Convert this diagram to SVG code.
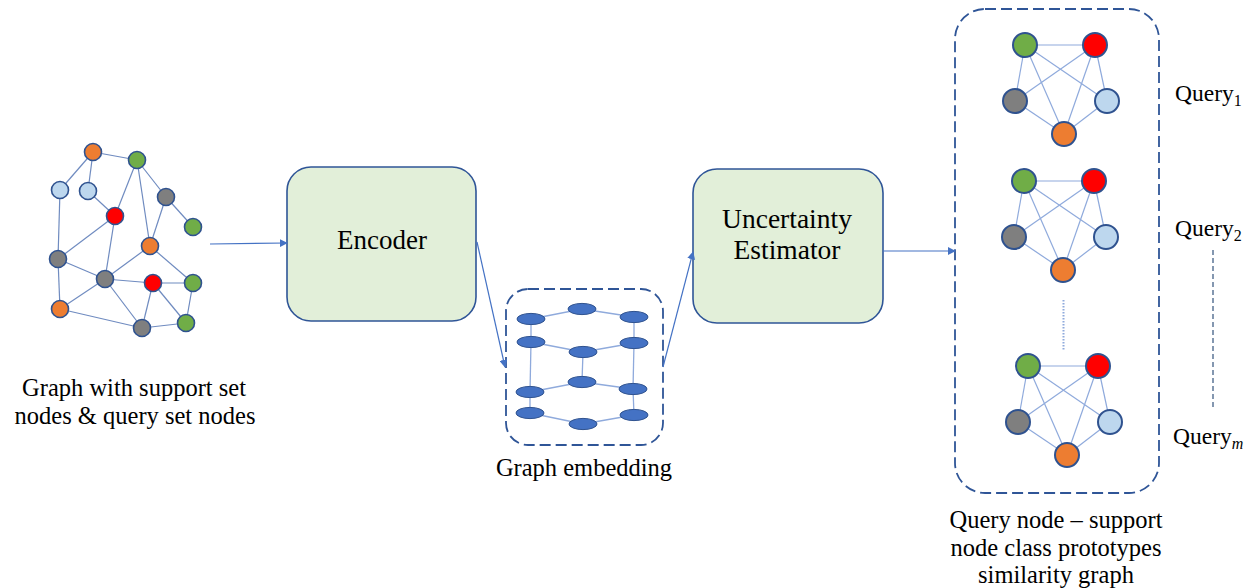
<svg xmlns="http://www.w3.org/2000/svg" width="1255" height="588" viewBox="0 0 1255 588">
<style>
text{font-family:"Liberation Serif","Times New Roman",serif;fill:#000}
.lbl{font-size:24.5px;text-anchor:middle}
.box{fill:#e2efd9;stroke:#2f5597;stroke-width:1.6}
.dash{fill:none;stroke:#2f5597;stroke-width:1.8;stroke-dasharray:11 5}
.ge{stroke:#6f8bc0;stroke-width:1.2}
.pe{stroke:#8faadc;stroke-width:1.2}
.ee{stroke:#8faadc;stroke-width:1.3}
.n{stroke:#2f528f;stroke-width:1.6}
.pn{stroke:#2f528f;stroke-width:2}
.g{fill:#70ad47}.r{fill:#ff0000}.o{fill:#ed7d31}.k{fill:#7f7f7f}.b{fill:#bdd7ee}
.el{fill:#4472c4;stroke:#2f528f;stroke-width:1}
.arr{stroke:#4472c4;stroke-width:1.2;fill:none;marker-end:url(#ah)}
.q{font-size:23.5px}
.sub{font-size:16px}
</style>
<defs>
<marker id="ah" viewBox="0 0 10 10" refX="9" refY="5" markerWidth="8" markerHeight="8" markerUnits="userSpaceOnUse" orient="auto">
<path d="M0,0 L10,5 L0,10 z" fill="#4472c4"/>
</marker>
<g id="pent">
<g class="pe">
<line x1="0" y1="0" x2="70" y2="0"/>
<line x1="0" y1="0" x2="-10" y2="56"/>
<line x1="0" y1="0" x2="82" y2="56"/>
<line x1="0" y1="0" x2="39" y2="89"/>
<line x1="70" y1="0" x2="-10" y2="56"/>
<line x1="70" y1="0" x2="39" y2="89"/>
<line x1="70" y1="0" x2="82" y2="56"/>
<line x1="-10" y1="56" x2="39" y2="89"/>
<line x1="82" y1="56" x2="39" y2="89"/>
</g>
<g class="pn">
<circle cx="0" cy="0" r="12" class="g"/>
<circle cx="70" cy="0" r="12" class="r"/>
<circle cx="-10" cy="56" r="12" class="k"/>
<circle cx="82" cy="56" r="12" class="b"/>
<circle cx="39" cy="89" r="12" class="o"/>
</g>
</g>
</defs>
<rect width="1255" height="588" fill="#fff"/>

<g id="input-graph">
<g class="ge">
<line x1="93" y1="152" x2="137" y2="160"/>
<line x1="93" y1="152" x2="60" y2="190"/>
<line x1="93" y1="152" x2="88" y2="191"/>
<line x1="137" y1="160" x2="115" y2="216"/>
<line x1="137" y1="160" x2="166" y2="197"/>
<line x1="137" y1="160" x2="150" y2="246"/>
<line x1="60" y1="190" x2="58" y2="259"/>
<line x1="88" y1="191" x2="115" y2="216"/>
<line x1="166" y1="197" x2="193" y2="227"/>
<line x1="166" y1="197" x2="150" y2="246"/>
<line x1="115" y1="216" x2="58" y2="259"/>
<line x1="115" y1="216" x2="105" y2="279"/>
<line x1="150" y1="246" x2="105" y2="279"/>
<line x1="150" y1="246" x2="193" y2="283"/>
<line x1="58" y1="259" x2="105" y2="279"/>
<line x1="58" y1="259" x2="60" y2="309"/>
<line x1="105" y1="279" x2="60" y2="309"/>
<line x1="105" y1="279" x2="153" y2="283"/>
<line x1="105" y1="279" x2="142" y2="328"/>
<line x1="153" y1="283" x2="193" y2="283"/>
<line x1="153" y1="283" x2="142" y2="328"/>
<line x1="153" y1="283" x2="186" y2="323"/>
<line x1="193" y1="283" x2="186" y2="323"/>
<line x1="60" y1="309" x2="142" y2="328"/>
<line x1="142" y1="328" x2="186" y2="323"/>
</g>
<g class="n">
<circle cx="93" cy="152" r="8.5" class="o"/>
<circle cx="137" cy="160" r="8.5" class="g"/>
<circle cx="60" cy="190" r="8.5" class="b"/>
<circle cx="88" cy="191" r="8.5" class="b"/>
<circle cx="166" cy="197" r="8.5" class="k"/>
<circle cx="115" cy="216" r="8.5" class="r"/>
<circle cx="193" cy="227" r="8.5" class="g"/>
<circle cx="150" cy="246" r="8.5" class="o"/>
<circle cx="58" cy="259" r="8.5" class="k"/>
<circle cx="105" cy="279" r="8.5" class="k"/>
<circle cx="153" cy="283" r="8.5" class="r"/>
<circle cx="193" cy="283" r="8.5" class="g"/>
<circle cx="60" cy="309" r="8.5" class="o"/>
<circle cx="186" cy="323" r="8.5" class="g"/>
<circle cx="142" cy="328" r="8.5" class="k"/>
</g>
<text class="lbl" x="134" y="396">Graph with support set</text>
<text class="lbl" x="135" y="424">nodes &amp; query set nodes</text>
</g>

<g id="encoder">
<rect class="box" x="287" y="167" width="189" height="154" rx="24"/>
<text x="382" y="249" font-size="27" text-anchor="middle">Encoder</text>
</g>

<g id="embedding">
<rect class="dash" x="506" y="289" width="157" height="156" rx="22"/>
<g class="ee">
<polyline fill="none" points="531,319 582,309 634,317"/>
<polyline fill="none" points="531,342 583,352 634,343"/>
<polyline fill="none" points="530,392 582,382 633,389"/>
<polyline fill="none" points="530,413 583,424 634,415"/>
<line x1="531" y1="319" x2="531" y2="342"/>
<line x1="634" y1="317" x2="634" y2="343"/>
<line x1="531" y1="342" x2="530" y2="392"/>
<line x1="634" y1="343" x2="633" y2="389"/>
<line x1="583" y1="352" x2="582" y2="382"/>
<line x1="530" y1="392" x2="530" y2="413"/>
<line x1="633" y1="389" x2="634" y2="415"/>
</g>
<ellipse class="el" cx="531" cy="319" rx="14" ry="5.6"/>
<ellipse class="el" cx="582" cy="309" rx="14" ry="5.6"/>
<ellipse class="el" cx="634" cy="317" rx="14" ry="5.6"/>
<ellipse class="el" cx="531" cy="342" rx="14" ry="5.6"/>
<ellipse class="el" cx="583" cy="352" rx="14" ry="5.6"/>
<ellipse class="el" cx="634" cy="343" rx="14" ry="5.6"/>
<ellipse class="el" cx="530" cy="392" rx="14" ry="5.6"/>
<ellipse class="el" cx="582" cy="382" rx="14" ry="5.6"/>
<ellipse class="el" cx="633" cy="389" rx="14" ry="5.6"/>
<ellipse class="el" cx="530" cy="413" rx="14" ry="5.6"/>
<ellipse class="el" cx="583" cy="424" rx="14" ry="5.6"/>
<ellipse class="el" cx="634" cy="415" rx="14" ry="5.6"/>
<text class="lbl" x="584" y="476">Graph embedding</text>
</g>

<g id="uncertainty">
<rect class="box" x="693" y="169" width="190" height="154" rx="24"/>
<text x="787" y="228" font-size="27.5" text-anchor="middle">Uncertainty</text>
<text x="787" y="259" font-size="27.5" text-anchor="middle">Estimator</text>
</g>

<g id="similarity">
<rect class="dash" x="955" y="9" width="204" height="484" rx="30"/>
<use href="#pent" x="1025" y="45"/>
<use href="#pent" x="1024" y="181"/>
<use href="#pent" x="1028" y="366"/>
<line x1="1063.5" y1="300" x2="1063.5" y2="350" stroke="#8faadc" stroke-width="2" stroke-dasharray="1.5 1.5"/>
<text class="lbl" x="1056" y="528">Query node – support</text>
<text class="lbl" x="1056" y="556">node class prototypes</text>
<text class="lbl" x="1056" y="583">similarity graph</text>
</g>

<g id="queries">
<text class="q" x="1175" y="101">Query<tspan class="sub" dy="5">1</tspan></text>
<text class="q" x="1175" y="236">Query<tspan class="sub" dy="5">2</tspan></text>
<text class="q" x="1173" y="444">Query<tspan class="sub" dy="5" font-style="italic">m</tspan></text>
<line x1="1213" y1="250" x2="1213" y2="408" stroke="#8497b0" stroke-width="2" stroke-dasharray="5 3"/>
</g>

<g id="connectors">
<line class="arr" x1="210" y1="244" x2="287" y2="243"/>
<line class="arr" x1="477" y1="242" x2="505" y2="367"/>
<line class="arr" x1="663" y1="367" x2="693" y2="252"/>
<line class="arr" x1="883" y1="251" x2="955" y2="251"/>
</g>
</svg>
